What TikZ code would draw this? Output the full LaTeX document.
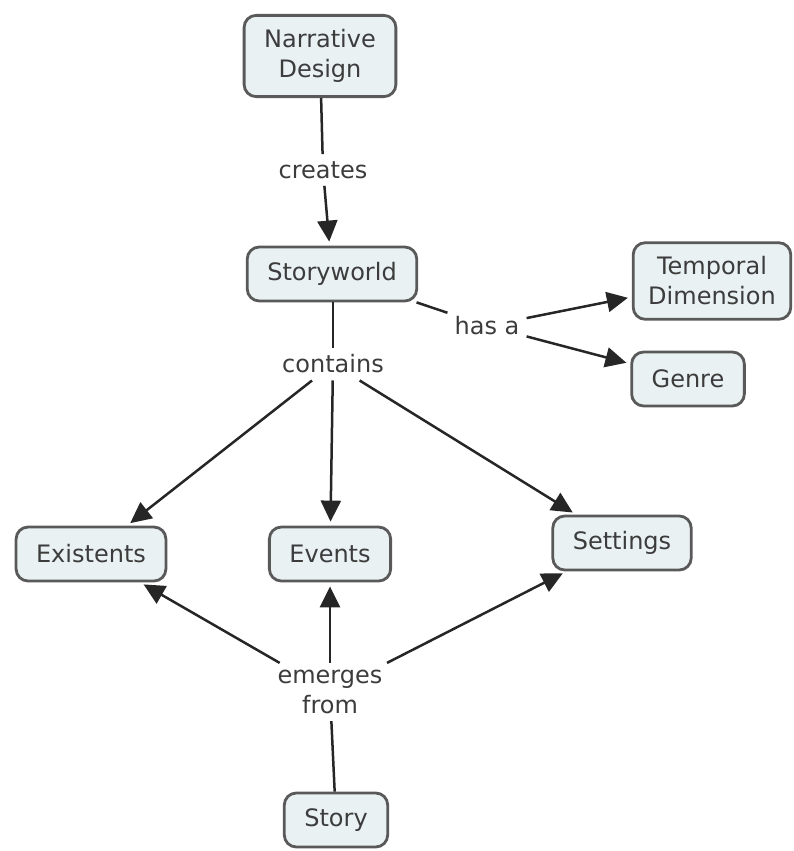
\documentclass[tikz,border=0pt]{standalone}
\usepackage{fontspec}
\setmainfont{DejaVu Sans}
\usetikzlibrary{arrows.meta}
\definecolor{boxfill}{HTML}{E9F1F3}
\definecolor{boxline}{HTML}{595959}
\definecolor{txt}{HTML}{3C3C3C}
\definecolor{conn}{HTML}{262626}
\tikzset{
  concept/.style={draw=boxline, line width=2.8pt, fill=boxfill, rounded corners=12pt,
    inner xsep=20pt, inner ysep=4pt, minimum height=54pt, text=txt, align=center,
    font=\fontsize{24}{30}\selectfont},
  twoline/.style={inner ysep=14pt},
  linklabel/.style={inner sep=7pt, text=txt, align=center, font=\fontsize{24}{30}\selectfont},
  link/.style={draw=conn, line width=2.5pt},
  arr/.style={link, -{Triangle[length=21pt,width=20pt]}, shorten >=4pt}
}
\begin{document}
\begin{tikzpicture}[x=1pt,y=-1pt]
\useasboundingbox (0,0) rectangle (793,851);
\node[concept, twoline] (nd) at (320,56) {Narrative\\Design};
\node[linklabel] (creates) at (323,170) {creates};
\node[concept] (sw) at (332,274) {Storyworld};
\node[concept, twoline, inner xsep=15pt] (td) at (712,281) {Temporal\\Dimension};
\node[concept] (genre) at (688,379) {Genre};
\node[linklabel] (hasa) at (487,326) {has a};
\node[linklabel] (contains) at (333,364) {contains};
\node[concept] (ex) at (91,554) {Existents};
\node[concept] (ev) at (330,554) {Events};
\node[concept] (set) at (622,543) {Settings};
\node[linklabel] (emerges) at (330,692) {emerges\\from};
\node[concept] (story) at (336,820) {Story};

\draw[link] (nd) -- (creates);
\draw[arr] (creates) -- (sw);
\draw[link] (sw) -- (hasa);
\draw[arr] (hasa) -- (td);
\draw[arr] (hasa) -- (genre);
\draw[link] (sw.south -| contains) -- (contains);
\draw[arr] (contains) -- (ex);
\draw[arr] (contains) -- (ev);
\draw[arr] (contains) -- (set);
\draw[link] (story) -- (emerges);
\draw[arr] (emerges) -- (ex);
\draw[arr] (emerges) -- (ev);
\draw[arr] (emerges) -- (set);
\end{tikzpicture}
\end{document}
